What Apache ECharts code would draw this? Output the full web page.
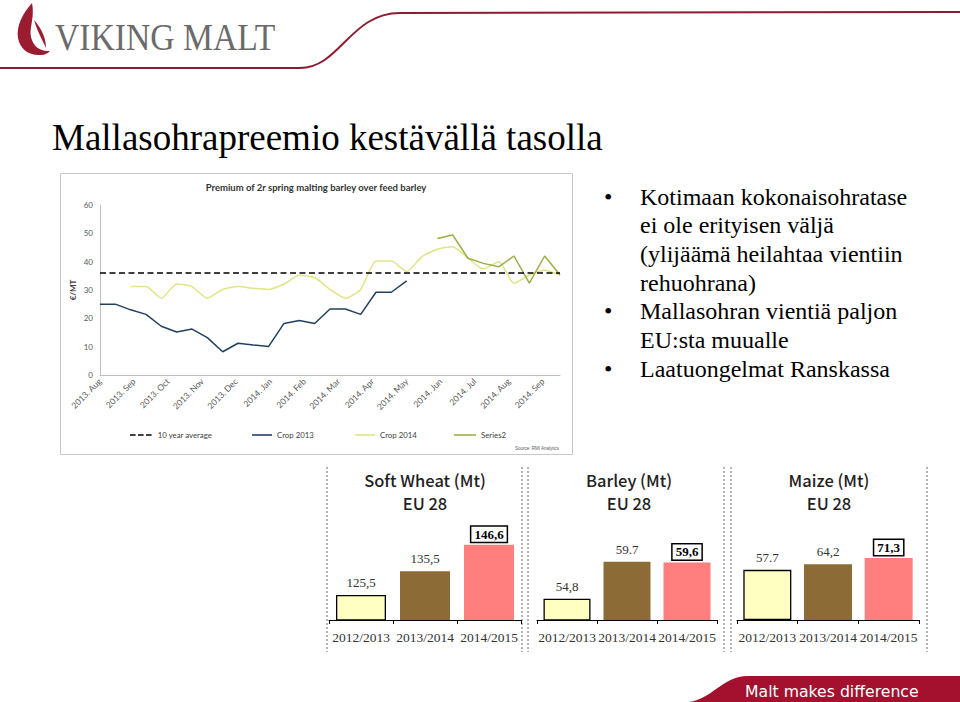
<!DOCTYPE html>
<html>
<head>
<meta charset="utf-8">
<script src="https://cdn.jsdelivr.net/npm/echarts@6/dist/echarts.min.js"></script>
<style>
  body{margin:0;width:960px;height:702px;overflow:hidden;background:#fff;position:relative}
  #decor{position:absolute;left:0;top:0}
  #chart{position:absolute;left:0;top:0;width:960px;height:702px}
  .t{position:absolute;white-space:nowrap;margin:0}
  #logo{left:55px;top:19px;font-family:'Liberation Serif',serif;font-size:37px;line-height:37px;color:#6b6b6b;transform:scaleX(0.91);transform-origin:left top}
  #title{left:52px;top:119px;font-family:'Liberation Serif',serif;font-size:37px;line-height:37px;color:#000}
  #bullets{left:640px;top:182.5px;font-family:'Liberation Serif',serif;font-size:24px;line-height:28.7px;color:#000}
  #dots{left:604px;top:182.5px;font-family:'Liberation Serif',serif;font-size:24px;line-height:28.7px;color:#000}
  #footer{left:745px;top:684px;font-family:'DejaVu Sans',sans-serif;font-size:15.7px;line-height:15.7px;color:#fff}
</style>
</head>
<body>
<svg id="decor" width="960" height="702" xmlns="http://www.w3.org/2000/svg">
  <path d="M32,3 C23,13 16,26 18,38 C20,49 29,56 41,55 C45,55 48,53 50,51 C40,52 33,46 31,37 C29,28 35,17 32,3 Z" fill="#9b1b30"/>
  <path d="M34,20 C41,28 46,37 46,48 C43,41 38,33 34,20 Z" fill="#9b1b30"/>
  <path d="M0,68 L300,68 C340,68 350,13 400,13 L960,12" fill="none" stroke="#8b1c31" stroke-width="2"/>
  <g stroke="#666" stroke-width="1" stroke-dasharray="2 2">
    <line x1="327" y1="467" x2="327" y2="652"/>
    <line x1="522" y1="467" x2="522" y2="652"/>
    <line x1="528" y1="467" x2="528" y2="652"/>
    <line x1="724" y1="467" x2="724" y2="652"/>
    <line x1="731" y1="467" x2="731" y2="652"/>
    <line x1="927" y1="467" x2="927" y2="652"/>
  </g>
  <path d="M688,702 C712,700 722,676 748,676 L960,676 L960,702 Z" fill="#a3112e"/>
</svg>
<div id="chart"></div>
<div class="t" id="logo">VIKING MALT</div>
<div class="t" id="title">Mallasohrapreemio kestävällä tasolla</div>
<div class="t" id="dots">•<br><br><br><br>•<br><br>•</div>
<div class="t" id="bullets">Kotimaan kokonaisohratase<br>ei ole erityisen väljä<br>(ylijäämä heilahtaa vientiin<br>rehuohrana)<br>Mallasohran vientiä paljon<br>EU:sta muualle<br>Laatuongelmat Ranskassa</div>
<div class="t" id="footer">Malt makes difference</div>
<script>
// ---------- DATA ----------
const monthLabels = ['2013. Aug','2013. Sep','2013. Oct','2013. Nov','2013. Dec','2014. Jan','2014. Feb','2014. Mar','2014. Apr','2014. May','2014. Jun','2014. Jul','2014. Aug','2014. Sep'];
const periodCount = 31;
const periods = Array.from({length: periodCount}, (_, i) => 'P' + (i + 1));
const tenYearAverage = 36;
const crop2013 = [25,25,23,21.4,17.2,15.2,16.2,13.2,8.2,11.2,10.6,10.1,18.2,19.2,18.2,23.3,23.3,21.4,29.2,29.2,33.2,
  null,null,null,null,null,null,null,null,null,null];
const crop2014 = [null,null,31.2,31.2,27.1,32.1,31.2,27.1,30.2,31.2,30.6,30.2,32.1,35.2,34.4,30.2,27.1,30.2,40.2,40.2,36.5,
  41.8,44.4,45.3,41.2,37.4,40,32.4,35.3,37,35.3];
const series2 = [null,null,null,null,null,null,null,null,null,null,null,null,null,null,null,null,null,null,null,null,null,null,
  48.2,49.4,41.2,39.4,38.2,42,32.4,42,35.3];
const yTicks = [0,10,20,30,40,50,60];

const seasons = ['2012/2013','2013/2014','2014/2015'];
const panelTitles = [['Soft Wheat (Mt)','EU 28'],['Barley (Mt)','EU 28'],['Maize (Mt)','EU 28']];
const softWheat = [125.5,135.5,146.6];
const softWheatLabels = ['125,5','135,5','146,6'];
const barley = [54.8,59.7,59.6];
const barleyLabels = ['54,8','59.7','59,6'];
const maize = [57.7,64.2,71.3];
const maizeLabels = ['57.7','64,2','71,3'];

// ---------- STYLES ----------
const barColors = ['#ffffc2','#8c6b37','#ff7f7f'];
const barBorders = ['#000','transparent','transparent'];
const c2013 = '#22405f', c2014 = '#dfe585', cS2 = '#9cae47';
const panelCenters = [425, 629, 829];
const dashIcon = 'path://M0,0h7v2h-7zM10,0h7v2h-7zM20,0h7v2h-7z';

function barData(vals, labels){
  return vals.map((v, i) => {
    const boxed = i === 2;
    return {
      value: v,
      itemStyle: {color: barColors[i], borderColor: barBorders[i], borderWidth: i === 0 ? 1.3 : 0},
      label: {
        show: true, position: 'top', distance: boxed ? 3 : 6,
        formatter: () => labels[i],
        fontFamily: 'Liberation Serif', fontSize: 13, color: boxed ? '#000' : '#333',
        fontWeight: boxed ? 'bold' : 'normal',
        backgroundColor: boxed ? '#fff' : 'transparent',
        borderColor: boxed ? '#000' : 'transparent', borderWidth: boxed ? 1.5 : 0,
        padding: boxed ? [1,3,1,3] : 0
      }
    };
  });
}

const catAxis = (gi) => ({
  type: 'category', gridIndex: gi, data: seasons,
  axisLine: {lineStyle: {color: '#000', width: 1}},
  axisTick: {show: true, length: 4, lineStyle: {color: '#000'}},
  axisLabel: {fontFamily: 'Liberation Serif', fontSize: 13.5, color: '#333', margin: 10, interval: 0}
});
const hidY = (gi, min, max) => ({type: 'value', gridIndex: gi, min, max, show: false, splitLine: {show: false}});

const lineLegend = (name, left, icon, w) => ({
  show: true, data: [{name, icon}], left, top: 431, padding: 0, itemWidth: w, itemHeight: 1.6, itemGap: 5,
  textStyle: {fontSize: 7.8, color: '#404040', fontFamily: 'Lato'}
});

const panelTitleComps = [];
panelTitles.forEach((lines, p) => {
  lines.forEach((txt, k) => {
    panelTitleComps.push({text: txt, left: panelCenters[p], top: 471 + k * 23, textAlign: 'center', padding: 0,
      textStyle: {fontSize: 16.5, lineHeight: 17, fontWeight: 500, color: '#222', fontFamily: 'Noto Sans CJK JP'}});
  });
});

const option = {
  animation: false,
  textStyle: {fontFamily: 'Lato'},
  title: [
    {text: 'Premium of 2r spring malting barley over feed barley', left: 316, top: 182, textAlign: 'center', padding: 0,
      textStyle: {fontSize: 9.5, fontWeight: 'bold', color: '#333', fontFamily: 'Lato'}}
  ].concat(panelTitleComps),
  legend: [
    lineLegend('10 year average', 130, dashIcon, 24),
    lineLegend('Crop 2013', 252, 'rect', 20),
    lineLegend('Crop 2014', 355, 'rect', 20),
    lineLegend('Series2', 454, 'rect', 22)
  ],
  grid: [
    {left: 100, top: 205, width: 460, height: 170},
    {left: 329, top: 513, width: 192, height: 107},
    {left: 537, top: 514, width: 180, height: 106},
    {left: 737, top: 514, width: 182, height: 106}
  ],
  xAxis: [
    {type: 'category', gridIndex: 0, data: periods, boundaryGap: false,
      axisLine: {lineStyle: {color: '#bfbfbf'}}, axisTick: {show: false}, axisLabel: {show: false}},
    {type: 'value', gridIndex: 0, min: 0, max: 13.5, interval: 1, position: 'bottom',
      axisLine: {show: false}, axisTick: {show: false}, splitLine: {show: false},
      axisLabel: {rotate: 45, fontSize: 8.5, color: '#595959', margin: 5, showMaxLabel: false,
        formatter: (v) => monthLabels[v] || ''}},
    catAxis(1), catAxis(2), catAxis(3)
  ],
  yAxis: [
    {type: 'value', gridIndex: 0, min: yTicks[0], max: yTicks[yTicks.length - 1], interval: 10,
      axisLine: {show: true, lineStyle: {color: '#bfbfbf'}}, axisTick: {show: false}, splitLine: {show: false},
      axisLabel: {fontSize: 8, color: '#595959', margin: 7},
      name: '€/MT', nameLocation: 'middle', nameGap: 23,
      nameTextStyle: {fontSize: 8, fontWeight: 'bold', color: '#404040'}},
    hidY(1, 115, 160), hidY(2, 52, 66), hidY(3, 0, 122)
  ],
  series: [
    {name: '10 year average', type: 'line', xAxisIndex: 0, yAxisIndex: 0, symbol: 'none',
      data: [[periods[0], tenYearAverage], [periods[periodCount - 1], tenYearAverage]],
      lineStyle: {color: '#000', width: 1.6, type: [6, 3.5]}, itemStyle: {color: '#000'}, z: 5},
    {name: 'Crop 2013', type: 'line', xAxisIndex: 0, yAxisIndex: 0, symbol: 'none', data: crop2013,
      lineStyle: {color: c2013, width: 1.5}, itemStyle: {color: c2013}},
    {name: 'Crop 2014', type: 'line', xAxisIndex: 0, yAxisIndex: 0, symbol: 'none', data: crop2014, smooth: 0.2,
      lineStyle: {color: c2014, width: 1.5}, itemStyle: {color: c2014}},
    {name: 'Series2', type: 'line', xAxisIndex: 0, yAxisIndex: 0, symbol: 'none', data: series2,
      lineStyle: {color: cS2, width: 1.5}, itemStyle: {color: cS2}},
    {type: 'bar', xAxisIndex: 2, yAxisIndex: 1, barWidth: 50, data: barData(softWheat, softWheatLabels)},
    {type: 'bar', xAxisIndex: 3, yAxisIndex: 2, barWidth: 47, data: barData(barley, barleyLabels)},
    {type: 'bar', xAxisIndex: 4, yAxisIndex: 3, barWidth: 48, data: barData(maize, maizeLabels)}
  ],
  graphic: [
    {type: 'rect', shape: {x: 60.5, y: 173.5, width: 512, height: 281}, style: {fill: 'none', stroke: '#c8c8c8', lineWidth: 1}, z: -1},
    {type: 'text', style: {x: 559, y: 448, text: 'Source: RMI Analytics', fontSize: 4.5, fill: '#595959', textAlign: 'right', textVerticalAlign: 'middle'}}
  ]
};

const chart = echarts.init(document.getElementById('chart'), null, {renderer: 'svg'});
chart.setOption(option);
</script>
</body>
</html>
